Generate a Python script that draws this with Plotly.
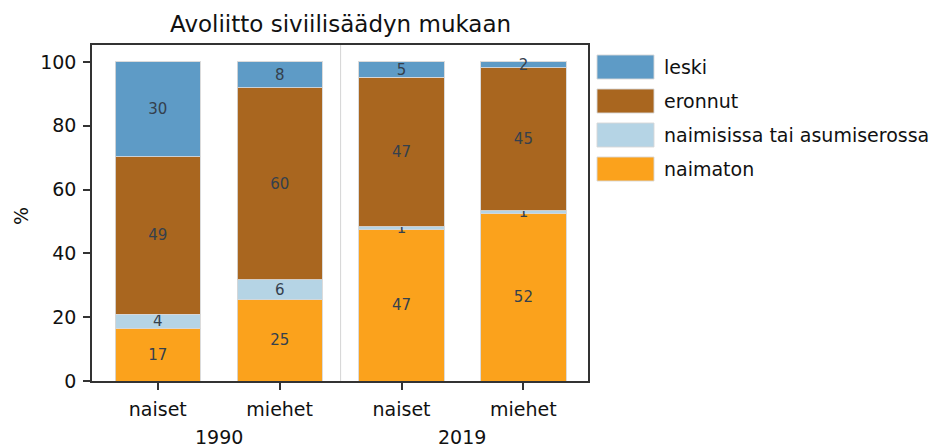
import plotly.graph_objects as go

# ---- data ----
x_pos = [0, 1, 2, 3]
tick_labels = ["naiset", "miehet", "naiset", "miehet"]
years = ["1990", "2019"]
year_pos = [0.5, 2.5]

series_names = ["naimaton", "naimisissa tai asumiserossa", "eronnut", "leski"]
naimaton = [16.6, 25.4, 47.4, 52.4]
naimisissa = [4.3, 6.3, 1.0, 1.0]
eronnut = [49.4, 60.2, 46.8, 44.8]
leski = [29.7, 8.1, 4.8, 1.8]
series_values = [naimaton, naimisissa, eronnut, leski]
colors = ["#fba21c", "#b5d4e5", "#a9661f", "#5e9bc6"]

title = "Avoliitto siviilisäädyn mukaan"
ylabel = "%"

FONT = "DejaVu Sans"
W, H = 942, 448
L, R, T, B = 92, 588, 45, 381


def px_x(p):
    return (p - L) / (R - L)


def px_y(p):
    return (B - p) / (B - T)


fig = go.Figure()
for name, vals, col in zip(series_names, series_values, colors):
    fig.add_trace(go.Bar(
        x=x_pos, y=vals, name=name, width=0.7,
        marker=dict(color=col, line=dict(color="rgba(215,215,215,0.9)", width=1)),
        texttemplate="%{y:.0f}", textposition="inside", insidetextanchor="middle",
        textangle=0,
        textfont=dict(family=FONT, size=15, color="#34404d"),
        showlegend=False, hoverinfo="skip",
    ))

shapes = [dict(type="line", xref="x", yref="paper", x0=1.5, x1=1.5, y0=0, y1=1,
               line=dict(color="#d4d4d4", width=1), layer="below")]
annotations = []

# custom legend (top to bottom: reverse of stacking order)
leg_items = list(zip(series_names, colors))[::-1]
for i, (name, col) in enumerate(leg_items):
    y0 = 55 + i * 34
    y1 = y0 + 24
    shapes.append(dict(type="rect", xref="paper", yref="paper",
                       x0=px_x(597), x1=px_x(654), y0=px_y(y1), y1=px_y(y0),
                       fillcolor=col, line=dict(color="rgba(215,215,215,0.9)", width=1)))
    annotations.append(dict(xref="paper", yref="paper", x=px_x(662), y=px_y((y0 + y1) / 2),
                            text=name, showarrow=False, xanchor="left", yanchor="middle",
                            font=dict(family=FONT, size=19, color="#111111")))

for yr, xp in zip(years, year_pos):
    annotations.append(dict(xref="x", yref="paper", x=xp, y=px_y(437), text=yr,
                            showarrow=False, xanchor="center", yanchor="middle",
                            font=dict(family=FONT, size=19, color="#111111")))

annotations.append(dict(xref="paper", yref="paper", x=0.5, y=px_y(24), text=title,
                        showarrow=False, xanchor="center", yanchor="middle",
                        font=dict(family=FONT, size=23, color="#111111")))
annotations.append(dict(xref="paper", yref="paper", x=px_x(21), y=px_y(216), text=ylabel,
                        showarrow=False, xanchor="center", yanchor="middle", textangle=-90,
                        font=dict(family=FONT, size=19, color="#111111")))

fig.update_layout(
    width=W, height=H,
    margin=dict(l=L, r=W - R, t=T, b=H - B, pad=0),
    barmode="stack",
    plot_bgcolor="white", paper_bgcolor="white",
    font=dict(family=FONT, size=19, color="#111111"),
    uniformtext=dict(minsize=15, mode="show"),
    shapes=shapes, annotations=annotations,
    showlegend=False,
)
axis_common = dict(showgrid=False, zeroline=False, showline=True, mirror=True,
                   linecolor="#333333", linewidth=1.5, ticks="outside", ticklen=7,
                   tickwidth=1.5, tickcolor="#333333",
                   tickfont=dict(family=FONT, size=19, color="#111111"))
fig.update_xaxes(range=[-0.54, 3.53], tickvals=x_pos, ticktext=tick_labels,
                 ticklabelstandoff=3, **axis_common)
fig.update_yaxes(range=[0, 105.3], tickvals=[0, 20, 40, 60, 80, 100],
                 ticklabelstandoff=3, **axis_common)

fig.write_html("out.html", config={"displayModeBar": False},
               post_script="document.body.style.margin='0';document.body.style.overflow='hidden';")
